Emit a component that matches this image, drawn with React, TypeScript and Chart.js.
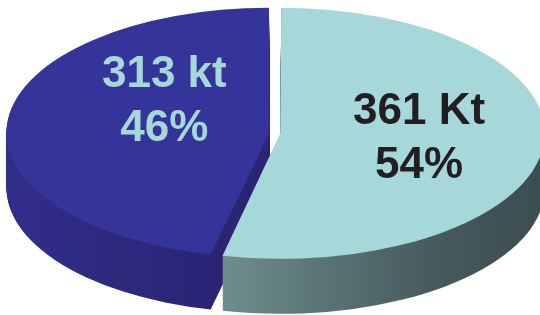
import React, { useEffect, useRef } from "react";
import { Chart, registerables } from "chart.js";

Chart.register(...registerables);

// ---- data ----
const categories = ["361 Kt", "313 kt"];
const values = [361, 313];
const percents = ["54%", "46%"];

// ---- styles ----
const topColors = ["#a6d8da", "#35349a"];
const textColors = ["#231f20", "#a6d8da"];
const labelRadius = [0.56, 0.43];
const labelShift = [-2, -25];

const CX = 275;
const CY = 133;
const RX = 259;
const RY = 123;
const DEPTH = 55;
const OFFSET = 11;
const FONT = "bold 44px 'Liberation Sans', Arial, sans-serif";
const LINE_GAP = 54;

const pie3d = {
  id: "pie3d",
  beforeDatasetsDraw(chart: any) {
    const meta = chart.getDatasetMeta(0);
    const arcs = meta.data;
    if (!arcs.length) return;
    const a0 = arcs[0];
    const r = a0.outerRadius;
    const sx = RX / r;
    const sy = RY / r;
    const ctx = chart.ctx;
    const toArcX = (X: number) => a0.x + (X - CX) / sx;

    const lightGrad = ctx.createLinearGradient(toArcX(210), 0, toArcX(540), 0);
    lightGrad.addColorStop(0, "#708f8d");
    lightGrad.addColorStop(0.3, "#5b7675");
    lightGrad.addColorStop(0.7, "#45585b");
    lightGrad.addColorStop(1, "#3b4d50");
    const darkGrad = ctx.createLinearGradient(toArcX(0), 0, toArcX(230), 0);
    darkGrad.addColorStop(0, "#302f8a");
    darkGrad.addColorStop(1, "#2a2472");
    const sideFills = [lightGrad, darkGrad];

    ctx.save();
    ctx.translate(CX, CY);
    ctx.scale(sx, sy);
    ctx.translate(-a0.x, -a0.y);
    for (let d = DEPTH; d >= 1; d--) {
      ctx.save();
      ctx.translate(0, d / sy);
      arcs.forEach((el: any, i: number) => {
        const clone = Object.assign(Object.create(Object.getPrototypeOf(el)), el);
        clone.options = { ...el.options, backgroundColor: sideFills[i], borderWidth: 0 };
        clone.draw(ctx);
      });
      ctx.restore();
    }
    ctx.restore();

    ctx.save();
    ctx.translate(CX, CY);
    ctx.scale(sx, sy);
    ctx.translate(-a0.x, -a0.y);
  },
  afterDatasetsDraw(chart: any) {
    const ctx = chart.ctx;
    ctx.restore();
    const meta = chart.getDatasetMeta(0);
    ctx.save();
    ctx.font = FONT;
    ctx.textAlign = "center";
    ctx.textBaseline = "middle";
    meta.data.forEach((el: any, i: number) => {
      const mid = (el.startAngle + el.endAngle) / 2;
      const x = CX + Math.cos(mid) * labelRadius[i] * RX;
      const y = CY + Math.sin(mid) * labelRadius[i] * RY + labelShift[i];
      ctx.fillStyle = textColors[i];
      ctx.fillText(categories[i], x, y - LINE_GAP / 2);
      ctx.fillText(percents[i], x, y + LINE_GAP / 2);
    });
    ctx.restore();
  },
};

export default function App() {
  const ref = useRef<HTMLCanvasElement>(null);
  useEffect(() => {
    document.body.style.margin = "0";
    const chart = new Chart(ref.current!, {
      type: "pie",
      data: {
        labels: categories,
        datasets: [
          {
            data: values,
            backgroundColor: topColors,
            borderWidth: 0,
            offset: OFFSET,
            clip: false,
          } as any,
        ],
      },
      options: {
        responsive: false,
        animation: false,
        events: [],
        layout: { padding: 20 },
        plugins: { legend: { display: false }, tooltip: { enabled: false } },
      },
      plugins: [pie3d],
    });
    return () => chart.destroy();
  }, []);
  return (
    <div style={{ width: 540, height: 315, background: "#fff" }}>
      <canvas ref={ref} width={540} height={315} style={{ display: "block" }} />
    </div>
  );
}
